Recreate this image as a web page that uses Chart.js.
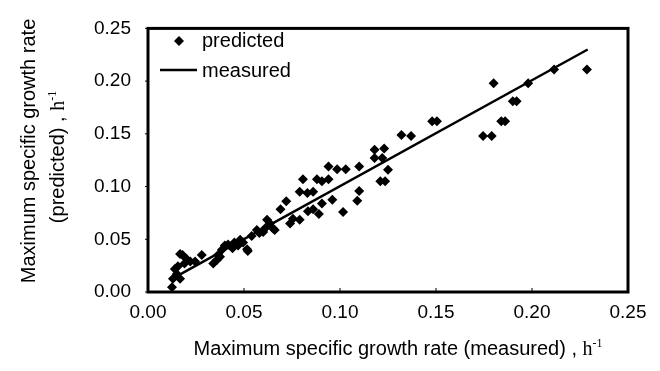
<!DOCTYPE html>
<html>
<head>
<meta charset="utf-8">
<script src="https://cdn.jsdelivr.net/npm/chart.js@4.4.1/dist/chart.umd.min.js"></script>
<style>
html,body{margin:0;padding:0;background:#fff;}
#wrap{position:relative;width:660px;height:371px;}
</style>
</head>
<body>
<div id="wrap"><canvas id="c" width="660" height="371"></canvas></div>
<script>
// measured values (x) of predicted points
const measuredX = [
  0.2286,0.2115,0.198,0.180,0.190,0.192,0.184,0.186,0.1745,0.179,
  0.148,0.1505,0.132,0.137,0.123,0.118,0.118,0.122,0.125,0.121,
  0.1235,0.110,0.103,0.0985,0.094,0.0807,0.088,0.0906,0.094,0.079,
  0.086,0.083,0.072,0.069,0.110,0.109,0.096,0.0906,0.086,0.0833,
  0.089,0.1016,0.0755,0.079,0.074,0.062,0.0635,0.061,0.065,0.066,
  0.0125,0.013,0.0167,0.015,0.014,0.0156,0.0167,0.018,0.020,0.022,
  0.0245,0.019,0.028,0.034,0.0365,0.0385,0.040,0.0417,0.036,0.0375,
  0.048,0.0495,0.0516,0.052,0.0469,0.054,0.0567,0.058,0.044,0.045,
  0.060
];
// predicted values (y)
const predictedY = [
  0.211,0.211,0.198,0.198,0.181,0.181,0.162,0.162,0.148,0.148,
  0.162,0.162,0.149,0.148,0.136,0.135,0.127,0.127,0.116,0.105,
  0.105,0.119,0.1165,0.1165,0.119,0.107,0.107,0.105,0.107,0.095,
  0.095,0.094,0.086,0.0785,0.0957,0.0866,0.0875,0.084,0.0785,0.0767,
  0.074,0.0758,0.0695,0.0686,0.065,0.0686,0.065,0.0605,0.0605,0.0587,
  0.0045,0.0126,0.0126,0.017,0.0217,0.0244,0.036,0.035,0.0316,0.029,
  0.029,0.027,0.035,0.027,0.035,0.040,0.044,0.045,0.0307,0.0334,
  0.0496,0.047,0.0406,0.0388,0.044,0.053,0.0587,0.056,0.0415,0.047,
  0.057
];
// 1:1 "measured" line end points
const lineX = [0.012, 0.229];
const lineY = [0.012, 0.230];
const tickValues = [0, 0.05, 0.10, 0.15, 0.20, 0.25];

const predictedPts = measuredX.map((x, i) => ({x: x, y: predictedY[i]}));
const linePts = lineX.map((x, i) => ({x: x, y: lineY[i]}));

const FONT = "'Liberation Sans', Arial, sans-serif";
const SERIF = "'Liberation Serif', 'Times New Roman', serif";

const framePlugin = {
  id: 'frame',
  afterDraw(chart) {
    const ctx = chart.ctx;
    const a = chart.chartArea;
    const xs = chart.scales.x, ys = chart.scales.y;
    ctx.save();
    // frame
    ctx.strokeStyle = '#000';
    ctx.lineWidth = 3;
    ctx.strokeRect(a.left, a.top, a.right - a.left, a.bottom - a.top);
    // small ticks
    ctx.lineWidth = 1;
    tickValues.forEach(v => {
      const px = xs.getPixelForValue(v);
      ctx.beginPath(); ctx.moveTo(px, a.bottom); ctx.lineTo(px, a.bottom - 4); ctx.stroke();
      const py = ys.getPixelForValue(v);
      ctx.beginPath(); ctx.moveTo(a.left, py); ctx.lineTo(a.left - 3, py); ctx.stroke();
    });
    // legend
    ctx.fillStyle = '#000';
    const lx = 179, ly = 41;
    ctx.beginPath();
    ctx.moveTo(lx, ly - 5); ctx.lineTo(lx + 5, ly); ctx.lineTo(lx, ly + 5); ctx.lineTo(lx - 5, ly); ctx.closePath();
    ctx.fill();
    ctx.font = '20px ' + FONT;
    ctx.textBaseline = 'alphabetic';
    ctx.textAlign = 'left';
    ctx.fillText('predicted', 202, 47);
    ctx.lineWidth = 2.5;
    ctx.beginPath(); ctx.moveTo(160, 70); ctx.lineTo(197, 70); ctx.stroke();
    ctx.fillText('measured', 202, 77);

    // x title
    const xt = 'Maximum specific growth rate (measured) , ';
    ctx.font = '20px ' + FONT;
    const w1 = ctx.measureText(xt).width;
    ctx.font = '20px ' + SERIF;
    const w2 = ctx.measureText('h').width;
    ctx.font = '12px ' + SERIF;
    const w3 = ctx.measureText('-1').width;
    let sx = 398 - (w1 + w2 + w3) / 2;
    const by = 355;
    ctx.font = '20px ' + FONT; ctx.fillText(xt, sx, by); sx += w1;
    ctx.font = '20px ' + SERIF; ctx.fillText('h', sx, by); sx += w2;
    ctx.font = '12px ' + SERIF; ctx.fillText('-1', sx, by - 8);

    // y title (rotated)
    ctx.save();
    ctx.translate(35, 151);
    ctx.rotate(-Math.PI / 2);
    ctx.textAlign = 'center';
    ctx.font = '20px ' + FONT;
    ctx.fillText('Maximum specific growth rate', 0, 0);
    ctx.restore();
    ctx.save();
    ctx.translate(64, 157);
    ctx.rotate(-Math.PI / 2);
    ctx.textAlign = 'left';
    const yt = '(predicted) , ';
    ctx.font = '20px ' + FONT;
    const v1 = ctx.measureText(yt).width;
    ctx.font = '20px ' + SERIF;
    const v2 = ctx.measureText('h').width;
    ctx.font = '12px ' + SERIF;
    const v3 = ctx.measureText('-1').width;
    let sy = -(v1 + v2 + v3) / 2;
    ctx.font = '20px ' + FONT; ctx.fillText(yt, sy, 0); sy += v1;
    ctx.font = '20px ' + SERIF; ctx.fillText('h', sy, 0); sy += v2;
    ctx.font = '12px ' + SERIF; ctx.fillText('-1', sy, -8);
    ctx.restore();
    ctx.restore();
  }
};

new Chart(document.getElementById('c'), {
  type: 'scatter',
  data: {
    datasets: [
      {
        label: 'predicted',
        data: predictedPts,
        pointStyle: 'rectRot',
        pointRadius: 5,
        pointHoverRadius: 5,
        backgroundColor: '#000',
        borderColor: '#000',
        borderWidth: 0
      },
      {
        label: 'measured',
        data: linePts,
        showLine: true,
        pointRadius: 0,
        borderColor: '#000',
        borderWidth: 2.5,
        fill: false
      }
    ]
  },
  options: {
    responsive: false,
    animation: false,
    devicePixelRatio: 1,
    layout: { padding: { left: 0, top: 15, right: 32, bottom: 0 } },
    plugins: { legend: { display: false }, tooltip: { enabled: false } },
    scales: {
      x: {
        type: 'linear', min: 0, max: 0.25,
        afterFit(s) { s.height = 79; },
        grid: { display: false, drawTicks: false },
        border: { display: false },
        ticks: {
          stepSize: 0.05, padding: 9, color: '#000',
          font: { family: FONT, size: 19 },
          callback: v => v.toFixed(2),
          maxRotation: 0
        }
      },
      y: {
        type: 'linear', min: 0, max: 0.25,
        afterFit(s) { s.width = 148; },
        grid: { display: false, drawTicks: false },
        border: { display: false },
        ticks: {
          stepSize: 0.05, padding: 17, color: '#000',
          font: { family: FONT, size: 19 },
          callback: v => v.toFixed(2)
        }
      }
    }
  },
  plugins: [framePlugin]
});
</script>
</body>
</html>
